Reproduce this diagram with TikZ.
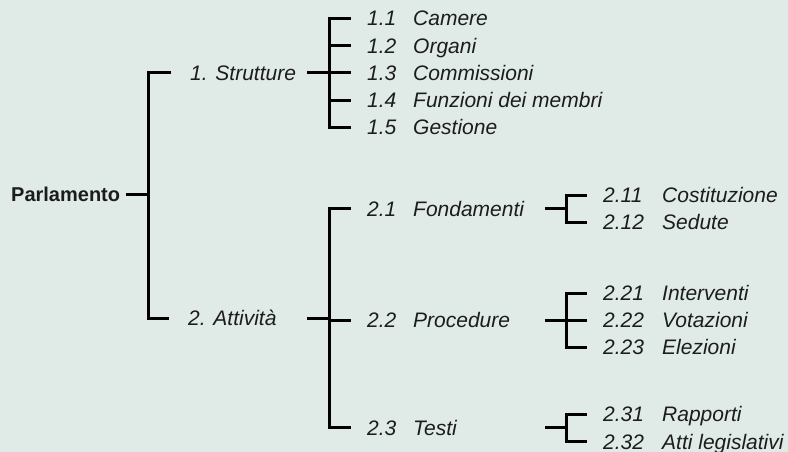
\documentclass[tikz,border=0pt]{standalone}
\usepackage{fontspec}
\setmainfont{Liberation Sans}
\usepackage{tikz}
\usetikzlibrary{calc}

\definecolor{bgmint}{RGB}{224,235,231}
\definecolor{inkgray}{RGB}{28,28,28}
\newcommand{\secnum}[1]{\makebox[46pt][l]{#1}}
\newcommand{\subnum}[1]{\makebox[59pt][l]{#1}}

\tikzset{
	item/.style={anchor=west,inner sep=0pt,text height=15pt,text depth=0pt,text=inkgray,
		font=\fontsize{21}{25}\selectfont\itshape},
	branch/.style={line width=3pt,black,line join=miter},
}

\begin{document}
\begin{tikzpicture}[x=1pt,y=-1pt]
	\fill[bgmint] (0,0) rectangle (788,452);
	\useasboundingbox (0,0) rectangle (788,452);
	% columns of the brackets
	\coordinate (stub1) at (126,0);
	\coordinate (vert1) at (148.5,0);
	\coordinate (stub2) at (307,0);
	\coordinate (vert2) at (329,0);
	\coordinate (stub3) at (545,0);
	\coordinate (vert3) at (566.5,0);
	% nodes
	\node[item,font=\fontsize{20}{24}\selectfont\bfseries,text height=14pt] (root) at (11,194) {Parlamento};
	\node[item] (s1) at (190,73) {1. Strutture};
	\node[item] (s2) at (188,318) {2. Attività};
	\node[item] (c11) at (367,18.5) {\secnum{1.1}Camere};
	\node[item] (c12) at (367,45.75) {\secnum{1.2}Organi};
	\node[item] (c13) at (367,73) {\secnum{1.3}Commissioni};
	\node[item] (c14) at (367,100.25) {\secnum{1.4}Funzioni dei membri};
	\node[item] (c15) at (367,127.5) {\secnum{1.5}Gestione};
	\node[item] (c21) at (367,208.5) {\secnum{2.1}Fondamenti};
	\node[item] (c22) at (367,320) {\secnum{2.2}Procedure};
	\node[item] (c23) at (367,427.5) {\secnum{2.3}Testi};
	\node[item] (d211) at (603,195) {\subnum{2.11}Costituzione};
	\node[item] (d212) at (603,222) {\subnum{2.12}Sedute};
	\node[item] (d221) at (603,293) {\subnum{2.21}Interventi};
	\node[item] (d222) at (603,320) {\subnum{2.22}Votazioni};
	\node[item] (d223) at (603,347) {\subnum{2.23}Elezioni};
	\node[item] (d231) at (603,414) {\subnum{2.31}Rapporti};
	\node[item] (d232) at (603,441.5) {\subnum{2.32}Atti legislativi};
	% root bracket
	\draw[branch] (root -| stub1) -- (root -| vert1);
	\draw[branch,shorten <=19pt,shorten >=19pt] (s1.west) -| (vert1 |- root) |- (s2.west);
	% Strutture
	\draw[branch] (s1 -| stub2) -- (s1 -| vert2);
	\draw[branch,shorten <=16pt,shorten >=16pt] (c11.west) -| (vert2 |- s1) |- (c15.west);
	\foreach \c in {c12,c13,c14}
		\draw[branch,shorten >=16pt] (\c -| vert2) -- (\c.west);
	% Attivita
	\draw[branch] (s2 -| stub2) -- (s2 -| vert2);
	\draw[branch,shorten <=16pt,shorten >=16pt] (c21.west) -| (vert2 |- s2) |- (c23.west);
	\draw[branch,shorten >=16pt] (c22 -| vert2) -- (c22.west);
	% Fondamenti, Procedure, Testi
	\draw[branch] (c21 -| stub3) -- (c21 -| vert3);
	\draw[branch,shorten <=16pt,shorten >=16pt] (d211.west) -| (vert3 |- c21) |- (d212.west);
	\draw[branch] (c22 -| stub3) -- (c22 -| vert3);
	\draw[branch,shorten <=16pt,shorten >=16pt] (d221.west) -| (vert3 |- c22) |- (d223.west);
	\draw[branch,shorten >=16pt] (d222 -| vert3) -- (d222.west);
	\draw[branch] (c23 -| stub3) -- (c23 -| vert3);
	\draw[branch,shorten <=16pt,shorten >=16pt] (d231.west) -| (vert3 |- c23) |- (d232.west);
\end{tikzpicture}
\end{document}
